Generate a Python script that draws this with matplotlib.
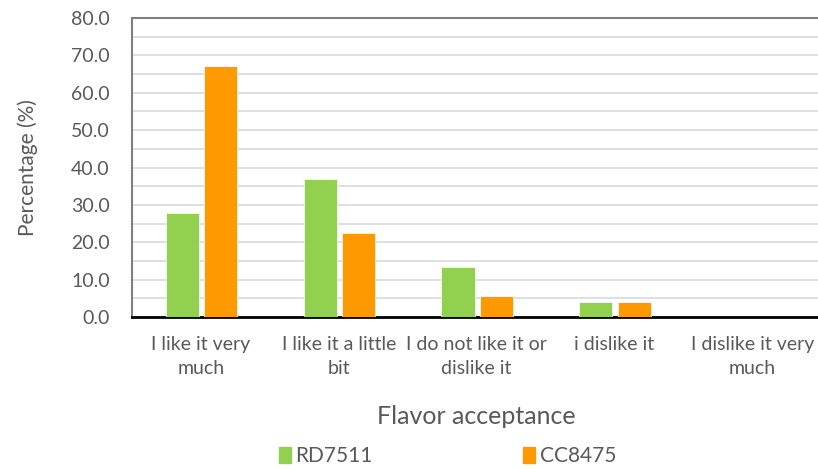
import numpy as np
import matplotlib.pyplot as plt
from matplotlib.patches import Patch

categories = ["I like it very\nmuch", "I like it a little\nbit", "I do not like it or\ndislike it",
              "i dislike it", "I dislike it very\nmuch"]
rd7511 = [27.7, 36.9, 13.4, 4.1, 0.0]
cc8475 = [67.2, 22.6, 5.5, 4.1, 0.0]

green = "#92d050"
orange = "#ff9900"
grey = "#595959"

plt.rcParams['font.family'] = ['Lato', 'DejaVu Sans']

fig = plt.figure(figsize=(8.18, 4.69), dpi=100)
ax = fig.add_axes([132 / 818, 1 - 317 / 469, 1 - 132 / 818 + 0.004, (317 - 18) / 469])

x = np.arange(len(categories))
w = 0.24
ax.bar(x - 0.135, rd7511, w, color=green, edgecolor="white", linewidth=0.5, zorder=3, label="RD7511")
ax.bar(x + 0.145, cc8475, w, color=orange, edgecolor="white", linewidth=0.5, zorder=3, label="CC8475")

ax.set_xlim(-0.5, 4.5)
ax.set_ylim(0, 80)
ax.set_yticks(np.arange(0, 81, 10))
ax.set_yticklabels([f"{v:.1f}" for v in np.arange(0, 81, 10)], fontsize=14, color=grey)
ax.set_yticks(np.arange(5, 80, 10), minor=True)
ax.grid(axis="y", which="both", color="#d9d9d9", linewidth=1.2, zorder=0)
ax.tick_params(axis="y", which="both", length=0, pad=16)
ax.set_xticks(x)
ax.set_xticklabels(categories, fontsize=14, color=grey, linespacing=1.45)
ax.tick_params(axis="x", length=0, pad=14)

for side in ["left", "top"]:
    ax.spines[side].set_color("#7f7f7f")
    ax.spines[side].set_linewidth(1.5)
ax.spines["right"].set_visible(False)
ax.spines["bottom"].set_color("black")
ax.spines["bottom"].set_linewidth(2)

ax.set_ylabel("Percentage (%)", fontsize=15, color=grey, labelpad=24)
ax.set_xlabel("Flavor acceptance", fontsize=18, color=grey, labelpad=20)

handles = [Patch(color=green, label="RD7511"), Patch(color=orange, label="CC8475")]
fig.legend(handles=handles, loc="center", bbox_to_anchor=(0.547, 0.027), ncol=2, frameon=False,
           fontsize=15, labelcolor=grey, handlelength=0.6, handleheight=0.8,
           handletextpad=0.2, columnspacing=7.2)

fig.savefig("out.png", dpi=100)
